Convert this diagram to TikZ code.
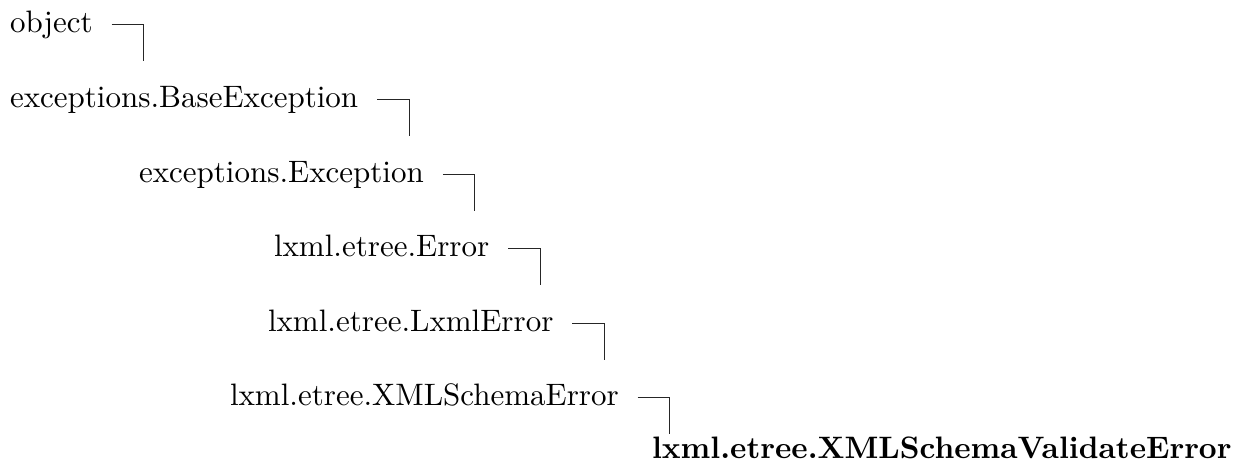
\documentclass[tikz,border=0pt]{standalone}
\begin{document}
\begin{tikzpicture}[x=1pt,y=-1pt,
  cls/.style={scale=3.1,anchor=base west,inner sep=0pt,outer sep=0pt},
  link/.style={draw=black!85,line width=0.9pt}]
\useasboundingbox (0,0) rectangle (1245,464);
\node[cls] (o)  at (10,32)  {object};
\node[cls] (be) at (10,107) {exceptions.BaseException};
\node[cls] (ex) at (139,182) {exceptions.Exception};
\node[cls] (er) at (274,256) {lxml.etree.Error};
\node[cls] (lx) at (268,331) {lxml.etree.LxmlError};
\node[cls] (xs) at (230,405) {lxml.etree.XMLSchemaError};
\node[cls] (xv) at (652,458) {\bfseries lxml.etree.XMLSchemaValidateError};
\foreach \n in {o,be,ex,er,lx,xs}{
  \draw[link] ([xshift=19pt,yshift=7.5pt]\n.base east) -- ++(32,0) -- ++(0,36);
}
\end{tikzpicture}
\end{document}
